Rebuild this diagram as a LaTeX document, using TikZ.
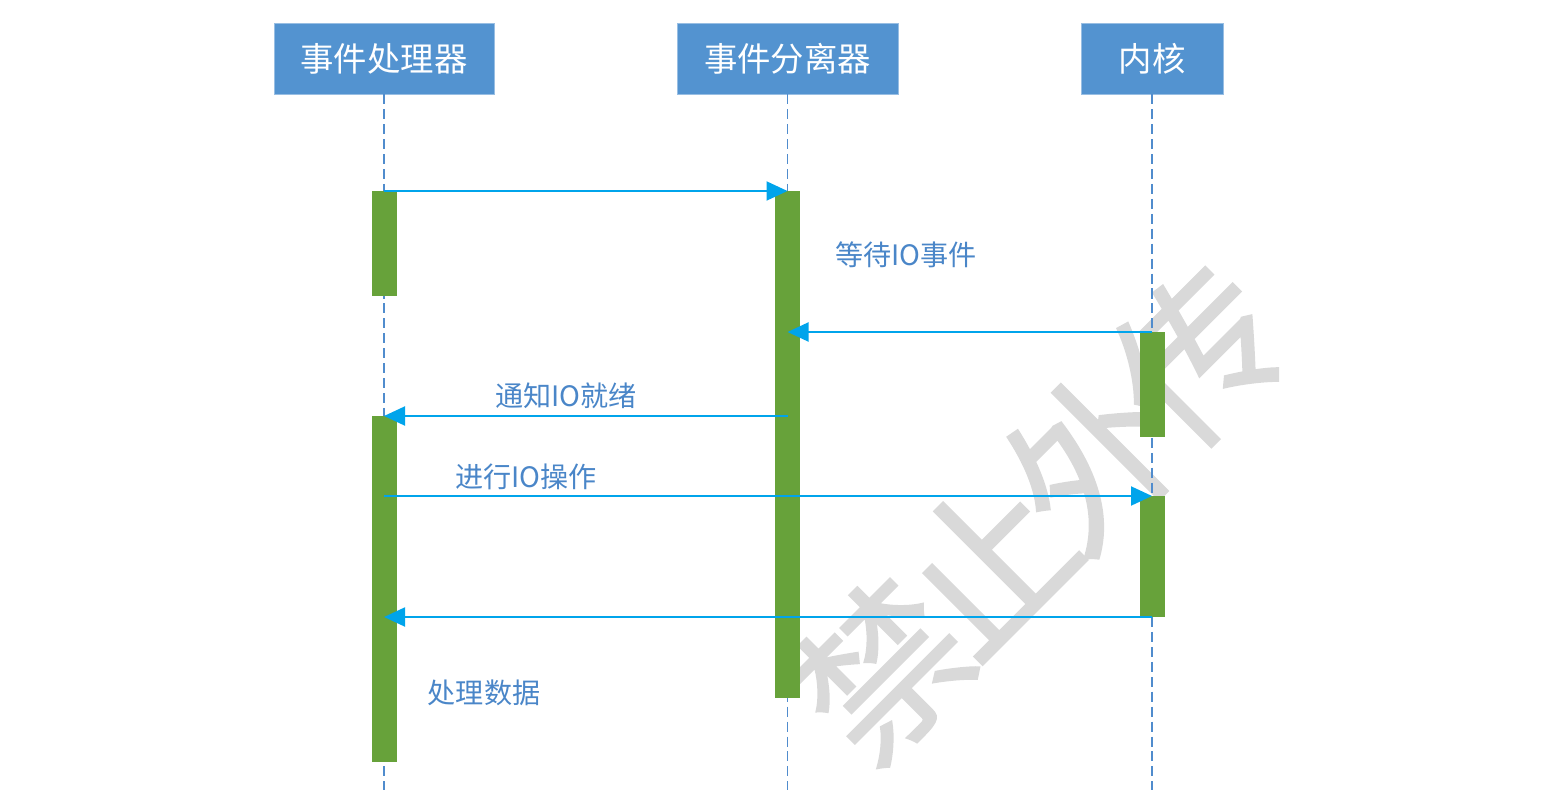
\documentclass[tikz,border=0pt]{standalone}
\usepackage{fontspec}
\setmainfont{Noto Sans CJK SC}
\newfontfamily\markfont[AutoFakeBold=1]{Noto Sans CJK SC}
\usetikzlibrary{arrows.meta}
\definecolor{headblue}{RGB}{83,147,208}
\definecolor{bargreen}{RGB}{103,162,58}
\definecolor{msgblue}{RGB}{0,164,235}
\definecolor{lineblue}{RGB}{80,140,205}
\definecolor{textblue}{RGB}{74,134,200}
\definecolor{markgray}{RGB}{217,217,217}
\tikzset{
 head/.style={fill=headblue, draw=headblue!60, text=white, font=\fontsize{19}{19}\selectfont, minimum height=1.42cm, inner sep=0pt},
 life/.style={lineblue, dash pattern=on 5.7pt off 2.8pt, line width=0.8pt},
 bar/.style={fill=bargreen},
 msg/.style={msgblue, line width=1.1pt, -{Triangle[length=0.42cm,width=0.38cm]}},
 lbl/.style={text=textblue, font=\fontsize{16}{16}\selectfont, inner sep=0pt}
}

\begin{document}
\begin{tikzpicture}[x=0.02cm,y=-0.02cm]
\useasboundingbox (0,0) rectangle (1550,790);
\node[text=markgray, rotate=45, font=\markfont\bfseries\fontsize{94}{94}\selectfont] (mark) at (1040,512) {禁\kern-0.1em 止\kern-0.1em 外\kern-0.1em 传};
\node[head, minimum width=4.4cm] (handler) at (384,58.5) {事件处理器};
\node[head, minimum width=4.42cm] (demux) at (787.5,58.5) {事件分离器};
\node[head, minimum width=2.84cm] (kernel) at (1152,58.5) {内核};
\coordinate (bot) at (0,790);
\foreach \n in {handler,demux,kernel}
 \draw[life] (\n.south) -- (\n.south |- bot);
% activation bars
\foreach \n/\a/\b in {handler/191/296, demux/191/698, kernel/332/437, handler/416/762, kernel/496/617}
 \fill[bar] ([xshift=-0.25cm]\n |- 0,\a) rectangle ([xshift=0.25cm]\n |- 0,\b);
% messages
\foreach \y/\a/\b in {191/handler/demux, 332/kernel/demux, 416/demux/handler, 496/handler/kernel, 617/kernel/handler}
 \draw[msg] (\a |- 0,\y) -- (\b |- 0,\y);
\node[lbl] (wait) at (906,255) {等待IO事件};
\node[lbl] (ready) at (566,396) {通知IO就绪};
\node[lbl] (doio) at (526,477) {进行IO操作};
\node[lbl] (proc) at (484,693) {处理数据};
\end{tikzpicture}
\end{document}
